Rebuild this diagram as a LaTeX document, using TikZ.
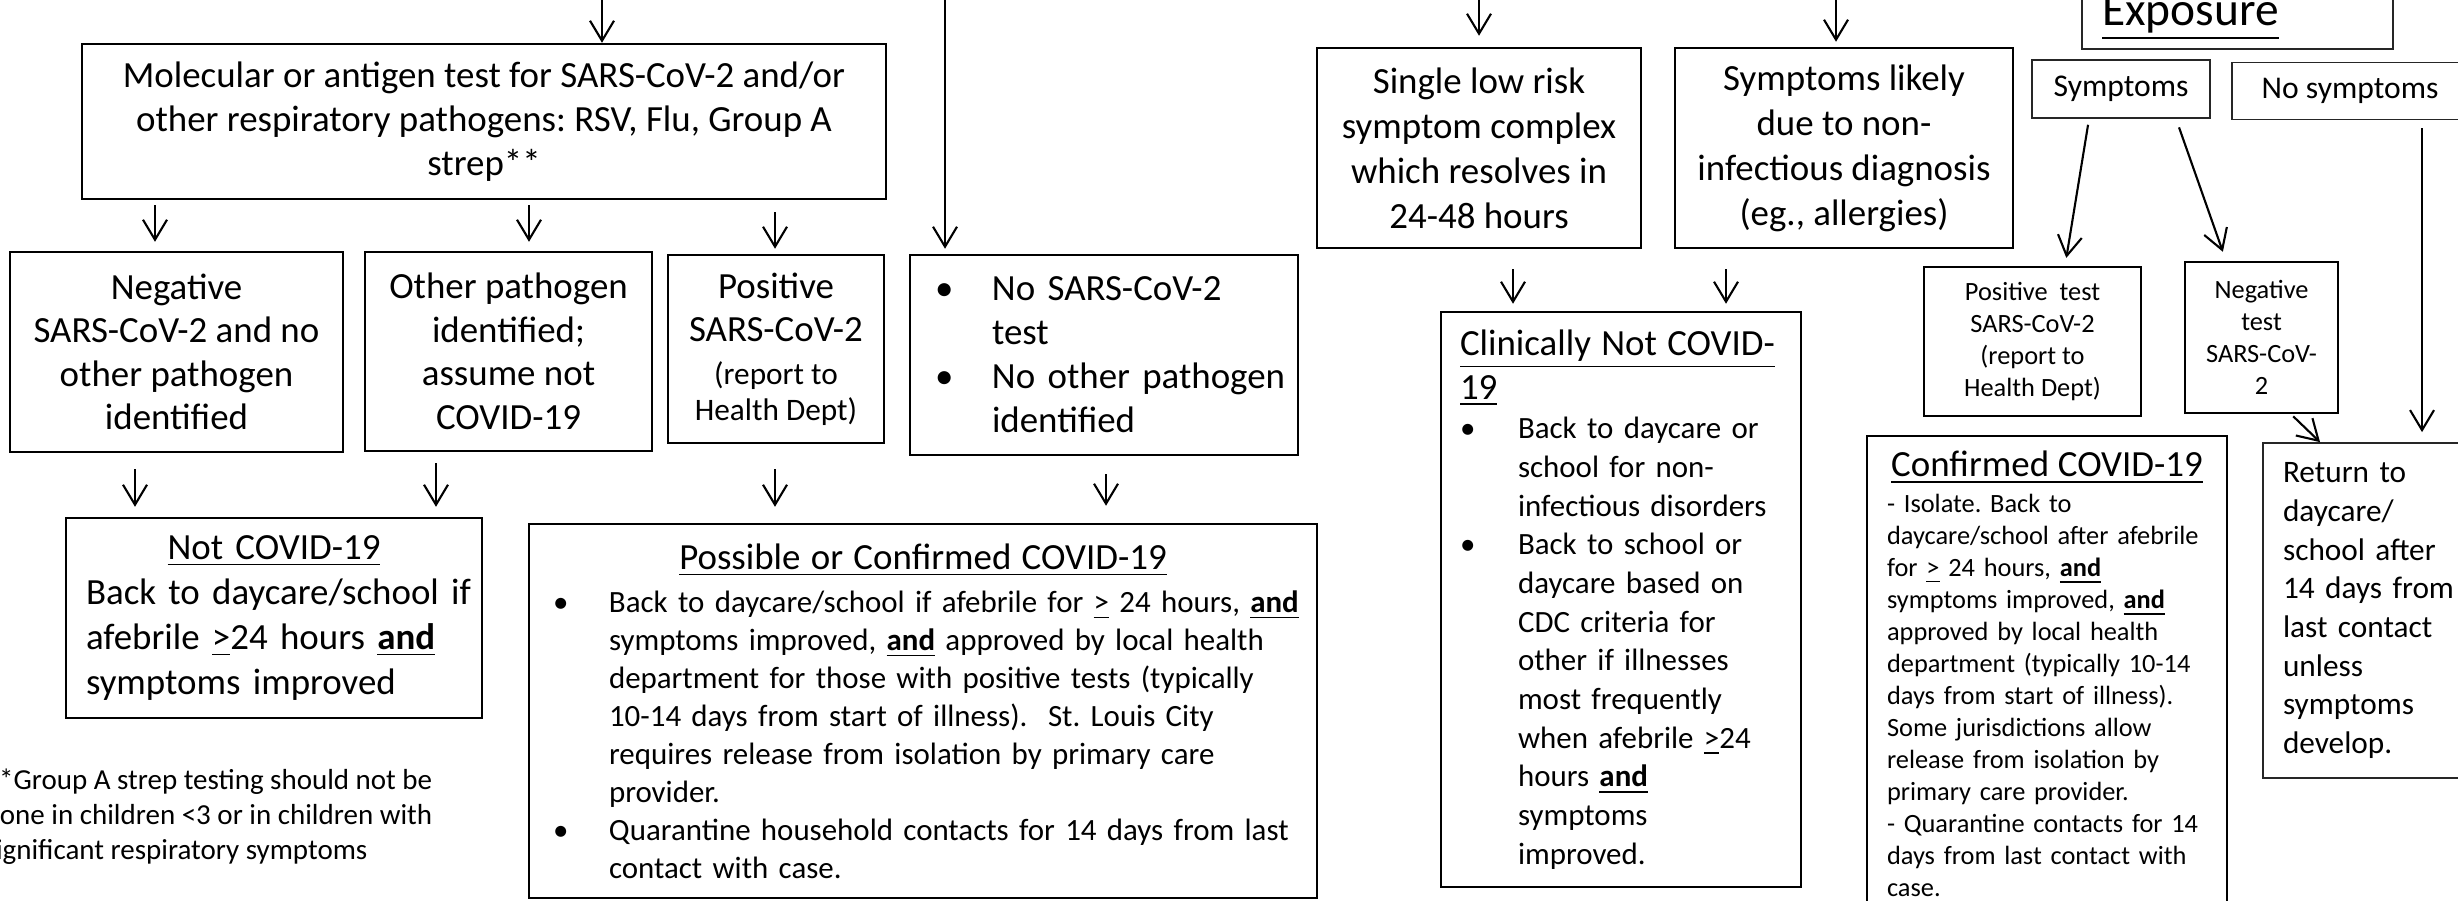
\documentclass[tikz,border=0pt]{standalone}
\usepackage{fontspec}
\setmainfont{Carlito}
\usetikzlibrary{arrows.meta, calc}
\frenchspacing

\tikzset{
  box/.style={draw, line width=0.7pt, inner sep=0pt, align=center},
  thinbox/.style={box, draw=black!85, line width=0.5pt},
  arr/.style={line width=0.6pt, -{Straight Barb[length=2mm, width=2.4mm]}},
  fbig/.style={font=\fontsize{10.5}{12.5}\selectfont},
  fwide/.style={font=\fontsize{10.5}{12.8}\selectfont},
  fbody/.style={font=\fontsize{8.8}{10.8}\selectfont},
  fclin/.style={font=\fontsize{8.8}{11}\selectfont},
  fsmall/.style={font=\fontsize{7.5}{9.1}\selectfont},
  fnote/.style={font=\fontsize{8.25}{9.96}\selectfont},
}
\newcommand{\ftitle}{\fontsize{10.5}{12.5}\selectfont}
\newcommand{\bulline}[2][5.6mm]{\mbox{\makebox[#1][l]{•}#2}}
\newcommand{\bullcont}[2][5.6mm]{\mbox{\hspace*{#1}#2}}
\newcommand{\gtu}{\underline{>}}
\newcommand{\andu}{\underline{\textbf{and}}}

\begin{document}
\begin{tikzpicture}[x=0.1mm, y=-0.1mm]
\fill[white] (0,0) rectangle (2458,900);
\useasboundingbox (0,0) rectangle (2458,900);
\clip (0,0) rectangle (2458,900);

% tested branch
\node[box, fbig, minimum width=80.4mm, minimum height=15.5mm] (test) at (484,121.5)
  {Molecular or antigen test for SARS-CoV-2 and/or\\ other respiratory pathogens: RSV, Flu, Group A\\ strep**};
\node[box, font=\fontsize{10.5}{12.4}\selectfont, minimum width=33.3mm, minimum height=20mm] (neg) at (176.5,352)
  {Negative\\ SARS-CoV-2 and no\\ other pathogen\\ identified};
\node[box, font=\fontsize{10.5}{12.4}\selectfont, minimum width=28.7mm, minimum height=19.9mm] (other) at (508.5,351.5)
  {Other pathogen\\ identified;\\ assume not\\ COVID-19};
\node[box, font=\fontsize{10.5}{12.2}\selectfont, minimum width=21.6mm, minimum height=18.8mm] (pos) at (776,349)
  {Positive\\ SARS-CoV-2\\ \fontsize{8.9}{10}\selectfont (report to\\[-0.7mm] \fontsize{8.9}{10}\selectfont Health Dept)};
\node[box, fbig, text width=33.8mm, inner xsep=2.5mm, align=left, minimum height=20mm] (nosars) at (1104,355)
  {\bulline[5.7mm]{No SARS-CoV-2}\\ \bullcont[5.7mm]{test}\\ \bulline[5.7mm]{No other pathogen}\\ \bullcont[5.7mm]{identified}};

\node[box, font=\fontsize{10.5}{12.8}\selectfont, text width=37.6mm, inner xsep=2mm, align=left, minimum height=20mm] (notc) at (274,618)
  {\makebox[37.6mm][c]{\underline{Not COVID-19}}\\ \mbox{Back to daycare/school if}\\ \mbox{afebrile \gtu24 hours \andu}\\ symptoms improved};
\node[box, fbody, text width=74mm, inner xsep=2.4mm, align=left, minimum height=37.4mm] (possible) at (923,711)
  {\makebox[74mm][c]{\ftitle\underline{Possible or Confirmed COVID-19}}\\[0.5mm]
   \bulline{Back to daycare/school if afebrile for \gtu{} 24 hours, \andu}\\
   \bullcont{symptoms improved, \andu{} approved by local health}\\
   \bullcont{department for those with positive tests (typically}\\
   \bullcont{10-14 days from start of illness).~ St. Louis City}\\
   \bullcont{requires release from isolation by primary care}\\
   \bullcont{provider.}\\
   \bulline{Quarantine household contacts for 14 days from last}\\
   \bullcont{contact with case.}};

\node[fnote, anchor=west, align=left, inner sep=0pt] (note) at (-16,817)
  {**Group A strep testing should not be\\ done in children <3 or in children with\\ significant respiratory symptoms};

% clinical branch
\node[box, fwide, minimum width=32.4mm, minimum height=20mm] (single) at (1479,148)
  {Single low risk\\ symptom complex\\ which resolves in\\ 24-48 hours};
\node[box, fwide, minimum width=33.8mm, minimum height=20mm] (likely) at (1844,148)
  {Symptoms likely\\ due to non-\\ infectious diagnosis\\ (eg., allergies)};
\node[box, fclin, text width=32.2mm, inner xsep=1.9mm, align=left, minimum height=57.5mm] (clin) at (1621,599.5)
  {{\ftitle\underline{Clinically Not COVID-}}\\[0.5mm]
   {\ftitle\underline{19}}\\[0.1mm]
   \bulline[5.8mm]{Back to daycare or}\\
   \bullcont[5.8mm]{school for non-}\\
   \bullcont[5.8mm]{infectious disorders}\\
   \bulline[5.8mm]{Back to school or}\\
   \bullcont[5.8mm]{daycare based on}\\
   \bullcont[5.8mm]{CDC criteria for}\\
   \bullcont[5.8mm]{other if illnesses}\\
   \bullcont[5.8mm]{most frequently}\\
   \bullcont[5.8mm]{when afebrile \gtu24}\\
   \bullcont[5.8mm]{hours \andu}\\
   \bullcont[5.8mm]{symptoms}\\
   \bullcont[5.8mm]{improved.}};

% exposure branch
\node[thinbox, anchor=south, font=\fontsize{13.5}{16}\selectfont, text width=27.1mm, inner xsep=2mm, inner ysep=0.9mm, align=left, text height=9mm] (expo) at (2237.5,50)
  {\underline{Exposure}};
\node[thinbox, font=\fontsize{9}{10.8}\selectfont, minimum width=17.8mm, minimum height=5.8mm] (symp) at (2121,89) {Symptoms};
\node[thinbox, font=\fontsize{9}{10.8}\selectfont, minimum width=23.6mm, minimum height=5.7mm] (nosym) at (2350,91) {No symptoms};
\node[box, fsmall, minimum width=21.7mm, minimum height=14.9mm] (postest) at (2032.5,341.5)
  {Positive~ test\\ SARS-CoV-2\\ (report to\\ Health Dept)};
\node[box, fsmall, minimum width=15.3mm, minimum height=15.1mm] (negtest) at (2261.5,337.5)
  {Negative\\ test\\ SARS-CoV-\\ 2};
\node[box, fsmall, text width=32mm, inner xsep=2mm, inner ysep=1.5mm, align=left, anchor=north] (conf) at (2047,435)
  {\makebox[32mm][c]{\ftitle\underline{Confirmed COVID-19}}\\[0.4mm]
   - Isolate. Back to\\ daycare/school after afebrile\\ for \gtu{} 24 hours, \andu\\ symptoms improved, \andu\\
   approved by local health\\ department (typically 10-14\\ days from start of illness).\\
   Some jurisdictions allow\\ release from isolation by\\ primary care provider.\\
   - Quarantine contacts for 14\\ days from last contact with\\ case.};
\node[thinbox, font=\fontsize{8.9}{11}\selectfont, text width=17mm, inner xsep=2mm, align=left, minimum height=33.5mm] (ret) at (2368,610.5)
  {Return to\\ daycare/\\ school after\\ \mbox{14 days from}\\ last contact\\ unless\\ symptoms\\ develop.};

% arrows
\coordinate (in1) at (602,0);
\coordinate (in2) at (945,0);
\coordinate (in3) at (1479,0);
\coordinate (in4) at (1836,0);
\draw[arr] (in1) -- (in1 |- test.north);
\draw[arr, shorten >=0.5mm] (in2) -- (in2 |- nosars.north);
\draw[arr, shorten >=1.1mm] (in3) -- (in3 |- single.north);
\draw[arr, shorten >=0.5mm] (in4) -- (in4 |- likely.north);

\foreach \a/\b/\x/\s/\e in {test/neg/155/0.5/0.9, test/other/529/0.5/0.9, test/pos/775/1.2/0.5,
    neg/notc/135/1.6/1, other/notc/436/1.1/1, pos/possible/775/2.5/1.6, nosars/possible/1106/1.8/1.7,
    single/clin/1513/2/0.7, likely/clin/1726/2/0.7}
  {\coordinate (p) at (\x,0);
   \draw[arr, shorten <=\s mm, shorten >=\e mm] (p |- \a.south) -- (p |- \b.north);}

\draw[arr, shorten <=0.6mm, shorten >=0.8mm] ($(symp.south)+(-32,0)$) -- ($(postest.north)+(32.5,0)$);
\draw[arr, shorten <=0.9mm, shorten >=0.95mm] ($(symp.south)+(55,0)$) -- ($(negtest.north)+(-35.5,0)$);
\draw[arr, shorten <=0.3mm] ($(negtest.south)+(29.5,0)$) -- ($(ret.north)+(-48,0)$);
\draw[arr, shorten <=0.8mm, shorten >=1mm] ($(nosym.south)+(72,0)$) -- ($(ret.north)+(54,0)$);
\end{tikzpicture}
\end{document}
